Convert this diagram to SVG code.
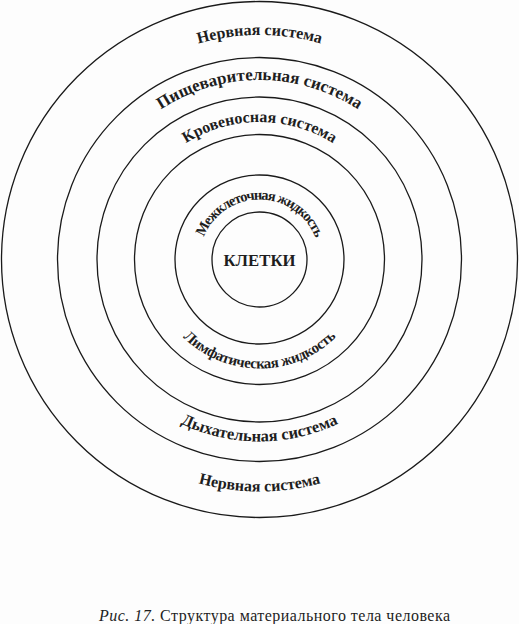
<svg xmlns="http://www.w3.org/2000/svg" width="519" height="624" viewBox="0 0 519 624">
<style>
.ring{fill:none;stroke:#1a1a1a;stroke-width:1.3}
.lbl{font-family:"Liberation Serif","DejaVu Serif",serif;font-weight:bold;fill:#1e1e1e;text-anchor:middle}
.cap{font-family:"Liberation Serif","DejaVu Serif",serif;fill:#1e1e1e;font-size:16px}
</style>
<defs>
<path id="pNervTop" d="M 35 259.5 A 224.5 224.5 0 0 1 484 259.5"/>
<path id="pPish" d="M 80 259.5 A 179.5 179.5 0 0 1 439 259.5"/>
<path id="pKrov" d="M 122 259.5 A 137.5 137.5 0 0 1 397 259.5"/>
<path id="pMezh" d="M 199.5 259.5 A 60 60 0 0 1 319.5 259.5"/>
<path id="pLimf" d="M 150.5 259.5 A 109 109 0 0 0 368.5 259.5"/>
<path id="pDykh" d="M 77.5 259.5 A 182 182 0 0 0 441.5 259.5"/>
<path id="pNervBot" d="M 27.5 259.5 A 232 232 0 0 0 491.5 259.5"/>
</defs>
<rect width="519" height="624" fill="#fdfdfd"/>
<g id="ring-nerv"><circle class="ring" cx="259.5" cy="259.5" r="258"/></g>
<g id="ring-dykh-pish"><circle class="ring" cx="259.5" cy="259.5" r="202"/></g>
<g id="ring-krov"><circle class="ring" cx="259.5" cy="259.5" r="162.5"/></g>
<g id="ring-limf"><circle class="ring" cx="259.5" cy="259.5" r="125"/></g>
<g id="ring-mezh"><circle class="ring" cx="259.5" cy="259.5" r="84.5"/></g>
<g id="kletki"><circle class="ring" cx="259.5" cy="259.5" r="47.5"/>
<text class="lbl" x="259.5" y="266" font-size="17.5" textLength="72" lengthAdjust="spacingAndGlyphs">КЛЕТКИ</text></g>
<g id="labels">
<text class="lbl" font-size="16"><textPath href="#pNervTop" startOffset="50%">Нервная система</textPath></text>
<text class="lbl" font-size="17"><textPath href="#pPish" startOffset="50%">Пищеварительная система</textPath></text>
<text class="lbl" font-size="16"><textPath href="#pKrov" startOffset="50%">Кровеносная система</textPath></text>
<text class="lbl" font-size="14.5" letter-spacing="-1.1"><textPath href="#pMezh" startOffset="50%">Межклеточная жидкость</textPath></text>
<text class="lbl" font-size="15" letter-spacing="-0.4"><textPath href="#pLimf" startOffset="50%">Лимфатическая жидкость</textPath></text>
<text class="lbl" font-size="16.5"><textPath href="#pDykh" startOffset="50%">Дыхательная система</textPath></text>
<text class="lbl" font-size="16"><textPath href="#pNervBot" startOffset="50%">Нервная система</textPath></text>
</g>
<text class="cap" x="99" y="621" textLength="351" lengthAdjust="spacing"><tspan font-style="italic">Рис. 17.</tspan> Структура материального тела человека</text>
</svg>
